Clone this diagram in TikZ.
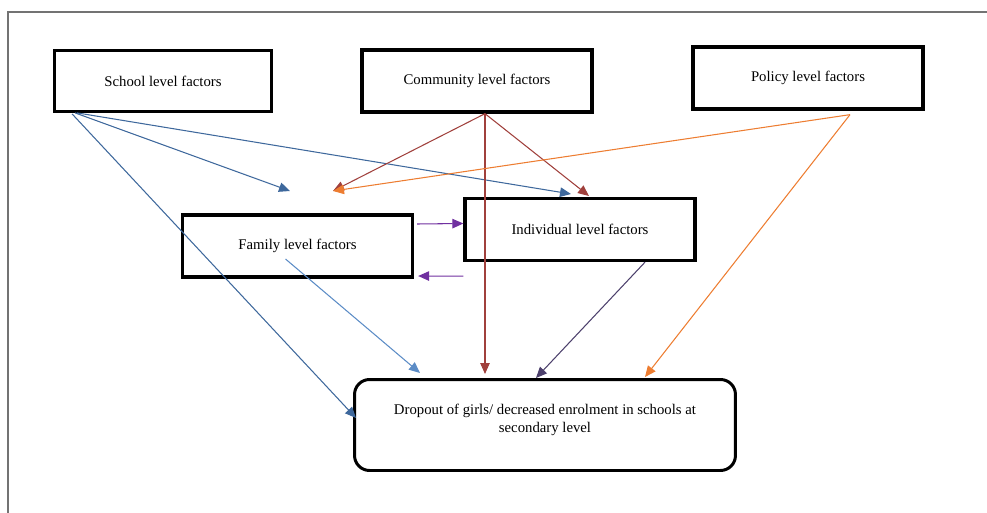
\documentclass[tikz,border=0pt]{standalone}
\usepackage{fontspec}
\setmainfont{Liberation Serif}
\usetikzlibrary{arrows.meta,calc}
\definecolor{schoolblue}{RGB}{62,104,156}
\definecolor{familyblue}{RGB}{92,140,198}
\definecolor{commred}{RGB}{160,64,60}
\definecolor{policyorange}{RGB}{237,125,49}
\definecolor{indivgrey}{RGB}{76,64,108}
\definecolor{linkpurple}{RGB}{112,48,160}
\tikzset{
  factor/.style={draw=black,line width=1.9pt,minimum width=4.6cm,minimum height=1.24cm,
    font=\fontsize{8.4}{10.2}\selectfont},
  con/.style={line width=0.6pt,-{Triangle[length=2.2mm,width=1.9mm]}}
}
\begin{document}
\begin{tikzpicture}[x=0.02cm,y=-0.02cm]
\useasboundingbox (0,0) rectangle (987,513);
\draw[black!55,line width=0.8pt] (8,513) -- (8,12) -- (987,12);
\node[factor,minimum width=4.33cm,minimum height=1.21cm] (school) at (163,81) {School level factors};
\node[factor] (community) at (477,81) {Community level factors};
\node[factor] (policy) at (808,78) {Policy level factors};
\node[factor] (family) at (297.5,246) {Family level factors};
\node[factor] (individual) at (580,229.5) {Individual level factors};
\node[draw=black,line width=1.7pt,rounded corners=0.3cm,minimum width=7.62cm,minimum height=1.82cm] (dropout) at (545,425) {};
\node[align=center,font=\fontsize{8.4}{10.2}\selectfont] (dropouttext) at (545,420)
  {Dropout of girls/ decreased enrolment in schools at\\secondary level};
% loose ends
\coordinate (famschool) at (290,191);
\coordinate (famin) at (333,191);
\coordinate (indschool) at (571,194);
\coordinate (indcomm) at (589,196);
\coordinate (dropschool) at (356,418);
\coordinate (dropfam) at (420,373);
\coordinate (dropcomm) at (485,374);
\coordinate (dropind) at (536,378);
\coordinate (droppolicy) at (645,377);
% school
\draw[con,schoolblue] ($(school.south west)+(22,0)$) -- (famschool);
\draw[con,schoolblue] ($(school.south west)+(24,0)$) -- (indschool);
\draw[con,schoolblue] ($(school.south west)+(19,1)$) -- (dropschool);
% community
\foreach \e in {famin,indcomm,dropcomm} {
  \draw[con,commred] ($(community.south)+(8,0)$) -- (\e);
}
% policy
\draw[con,policyorange] ($(policy.south)+(42,4)$) -- (famin);
\draw[con,policyorange] ($(policy.south)+(42,4)$) -- (droppolicy);
% family and individual
\draw[con,familyblue] ($(family.center)+(-12,13)$) -- (dropfam);
\draw[con,indivgrey] ($(individual.south)+(65,0)$) -- (dropind);
\draw[con,linkpurple] ($(family.east)+(3,-22)$) -- ($(individual.west)+(0,-6)$);
\draw[con,linkpurple] ($(individual.south west)+(0,14)$) -- ($(family.east)+(4,30)$);
\end{tikzpicture}
\end{document}
